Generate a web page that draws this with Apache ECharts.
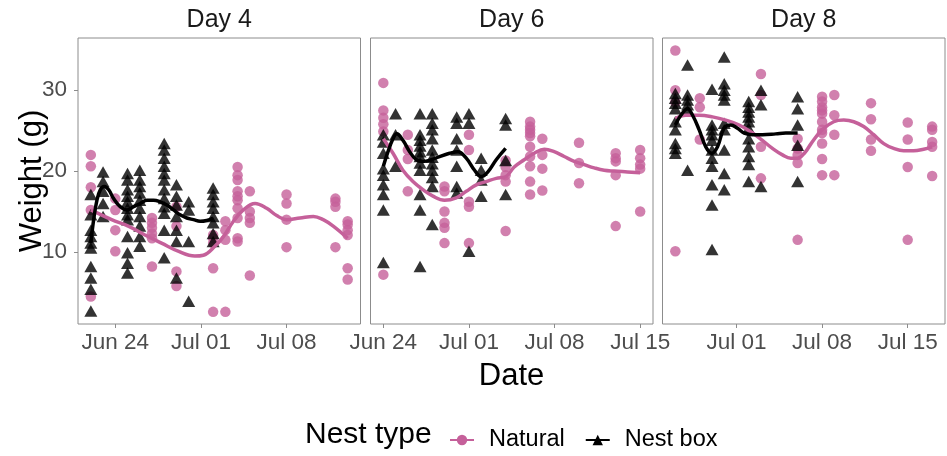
<!DOCTYPE html>
<html>
<head>
<meta charset="utf-8">
<script src="https://cdn.jsdelivr.net/npm/echarts@6/dist/echarts.min.js"></script>
<style>
html,body{margin:0;padding:0;background:#fff;}
#chart{width:947px;height:456px;}
</style>
</head>
<body>
<div id="chart"></div>
<script>
// x values are days since 1 June (Jun 24 = 23, Jul 01 = 30 ...)
const tickDays = [23, 30, 37, 44];
const tickLabels = ['Jun 24', 'Jul 01', 'Jul 08', 'Jul 15'];
const yTicks = [10, 20, 30];
const panels = ['Day 4', 'Day 6', 'Day 8'];
const groups = ['Natural', 'Nest box'];

// weights (g) grouped by date: [day, [weights...]]
const day4Natural = [
  [21, [22.0, 20.6, 18.0, 15.2, 4.5]],
  [23, [16.6, 15.2, 12.7, 10.1]],
  [26, [14.2, 13.6, 13.0, 12.3, 11.7, 8.2]],
  [28, [15.6, 13.2, 7.6, 5.8]],
  [31, [12.1, 11.7, 11.1, 8.0, 2.6]],
  [32, [13.8, 12.7, 11.5, 2.6]],
  [33, [20.5, 19.5, 18.9, 17.5, 16.9, 16.4, 15.4, 14.2, 11.7, 11.3]],
  [34, [17.5, 15.0, 14.2, 13.6, 7.1]],
  [37, [17.1, 16.0, 14.0, 10.6]],
  [41, [16.6, 16.2, 15.6, 10.6]],
  [42, [13.8, 13.4, 12.7, 12.1, 8.0, 6.6]]
];
const day4NestBox = [
  [21, [17.1, 14.6, 12.7, 11.9, 11.1, 10.5, 8.2, 6.8, 5.4, 2.7]],
  [22, [19.9, 18.7, 17.5, 16.0, 14.4]],
  [24, [19.7, 18.9, 17.7, 16.9, 16.2, 15.4, 14.6, 14.0, 11.9, 9.9, 8.6, 7.4]],
  [25, [20.1, 18.9, 18.1, 17.3, 16.4, 15.4, 14.4, 13.2, 11.9, 10.7]],
  [27, [23.4, 22.6, 21.6, 20.6, 19.7, 18.9, 17.7, 16.6, 15.6, 14.8, 12.7, 9.3]],
  [28, [18.3, 16.9, 15.8, 14.4, 12.7, 11.3, 6.8]],
  [29, [16.2, 15.2, 11.3, 3.9]],
  [31, [17.9, 17.1, 16.2, 15.4, 14.4, 13.6, 12.3, 11.3]]
];
const day6Natural = [
  [23, [30.9, 27.5, 26.6, 25.8, 24.9, 7.2]],
  [25, [24.5, 22.6, 21.5, 17.5]],
  [28, [18.1, 17.5, 15.0, 13.6, 13.0, 11.1]],
  [30, [24.5, 22.6, 16.2, 15.6, 11.1]],
  [33, [21.3, 20.5, 19.5, 18.7, 12.6]],
  [35, [26.1, 25.5, 25.1, 24.7, 24.3, 23.0, 21.8, 20.6, 18.7, 17.1]],
  [36, [24.0, 22.0, 20.3, 17.6]],
  [39, [23.5, 21.0, 18.5]],
  [42, [22.2, 21.6, 21.2, 19.5, 13.2]],
  [44, [22.6, 21.6, 20.8, 20.3, 15.0]]
];
const day6NestBox = [
  [23, [24.5, 23.6, 22.2, 20.3, 19.5, 18.3, 17.1, 15.2, 8.7]],
  [24, [27.1, 24.5, 20.6]],
  [26, [27.1, 24.5, 23.8, 23.1, 22.4, 21.8, 21.0, 20.1, 17.1, 15.2, 8.2]],
  [27, [27.1, 25.9, 25.1, 24.0, 22.6, 21.7, 20.9, 20.1, 19.2, 18.1, 13.4]],
  [29, [26.7, 25.9, 24.0, 22.6, 20.6, 18.1, 17.3]],
  [30, [27.1, 25.9, 10.1]],
  [31, [21.6, 20.1, 18.9, 16.9]],
  [33, [26.5, 25.7, 21.3, 17.1]]
];
const day8Natural = [
  [25, [34.9, 30.0, 28.5, 10.1]],
  [27, [29.0, 27.9, 23.9]],
  [32, [32.0, 29.4, 23.0, 19.1]],
  [35, [24.0, 22.8, 22.0, 21.0, 11.5]],
  [37, [29.2, 28.6, 27.9, 27.5, 27.1, 26.1, 25.1, 24.7, 23.4, 21.5, 19.5]],
  [38, [29.4, 26.9, 24.5, 19.5]],
  [41, [28.4, 26.4, 23.9, 22.5]],
  [44, [26.0, 23.9, 20.5, 11.5]],
  [46, [25.5, 25.1, 23.6, 23.0, 19.4]]
];
const day8NestBox = [
  [25, [29.6, 29.0, 28.4, 27.7, 26.1, 25.1, 23.4, 22.8, 22.2]],
  [26, [33.1, 29.4, 28.8, 28.2, 27.5, 20.1]],
  [28, [30.1, 25.7, 25.1, 24.5, 23.8, 22.6, 21.6, 20.6, 18.3, 15.8, 10.3]],
  [29, [34.1, 30.8, 30.0, 29.4, 28.8, 25.9, 25.1, 22.6, 19.7, 17.7]],
  [31, [28.6, 27.9, 27.3, 26.7, 26.1, 25.3, 24.0, 23.0, 21.8, 20.8, 18.7]],
  [32, [30.0, 28.2, 18.1]],
  [35, [29.2, 27.7, 25.7, 23.2, 18.7]]
];

// smoothed (loess) curves: [day, weight]
const day4NaturalFit = [[21.0,15.2],[22.7,14.0],[24.06,13.2],[25.42,12.1],[26.78,11.1],[28.14,10.1],[29.5,9.5],[30.2,9.6],[31.14,10.7],[31.84,11.9],[32.66,13.8],[33.47,15.2],[34.43,16.0],[35.38,15.4],[36.2,14.5],[37.0,14.0],[38.1,14.2],[39.2,14.4],[40.0,14.0],[40.82,13.2],[42.0,11.7]];
const day4NestBoxFit = [[21.0,11.1],[21.23,14.0],[21.5,16.4],[21.78,17.7],[22.1,18.1],[22.46,17.7],[22.86,16.6],[23.4,15.6],[23.95,15.2],[24.5,15.6],[25.04,16.0],[25.59,16.4],[26.13,16.4],[26.67,16.2],[27.22,15.8],[27.76,15.2],[28.3,14.6],[28.85,14.2],[29.39,14.0],[29.94,13.8],[30.48,13.9],[31.0,14.2]];
const day6NaturalFit = [[23.0,24.0],[23.79,22.2],[24.6,20.1],[25.42,18.7],[26.24,17.7],[27.06,16.9],[28.0,16.4],[28.96,16.7],[29.78,17.5],[30.6,18.3],[31.4,18.7],[32.23,19.1],[33.0,19.3],[33.7,20.5],[34.52,21.4],[35.34,22.2],[36.16,22.7],[36.97,22.4],[37.79,21.8],[38.61,21.2],[39.42,20.8],[40.24,20.4],[41.06,20.1],[41.87,20.0],[42.96,19.9],[44.0,19.8]];
const day6NestBoxFit = [[23.0,20.6],[23.38,22.4],[23.79,24.0],[24.1,24.6],[24.6,23.8],[25.15,22.4],[25.7,21.4],[26.24,21.2],[26.92,21.4],[27.6,21.8],[28.42,22.2],[29.1,22.4],[29.78,21.6],[30.46,20.1],[31.0,19.3],[31.55,19.9],[32.23,21.4],[33.0,22.8]];
const day8NaturalFit = [[25.0,26.5],[25.86,26.9],[26.95,26.9],[28.04,26.7],[29.13,26.3],[30.22,25.7],[31.31,24.7],[32.12,23.8],[32.94,22.8],[33.76,22.0],[34.44,21.6],[35.0,21.6],[35.6,22.3],[36.1,23.4],[37.0,25.1],[37.95,26.1],[38.77,26.3],[39.59,26.1],[40.4,25.5],[41.22,24.5],[42.04,23.4],[42.85,22.8],[43.67,22.5],[44.49,22.5],[45.3,22.7],[46.0,23.0]];
const day8NestBoxFit = [[25.0,25.7],[25.45,26.9],[26.0,27.7],[26.41,26.9],[26.95,25.1],[27.49,23.0],[27.98,22.2],[28.45,23.0],[28.99,25.3],[29.54,25.7],[30.08,25.3],[30.63,24.7],[31.31,24.5],[32.12,24.5],[33.21,24.6],[34.03,24.7],[35.0,24.7]];

const xRanges = [[19.95, 43.05], [21.95, 45.05], [23.95, 47.05]];
const yRange = [1.1, 36.45];

const FONT = "'Liberation Sans', Arial, Helvetica, sans-serif";
const PINK = '#C5609A';
const BLACK = '#000000';

const naturalPts = [day4Natural, day6Natural, day8Natural];
const nestPts = [day4NestBox, day6NestBox, day8NestBox];
const naturalFits = [day4NaturalFit, day6NaturalFit, day8NaturalFit];
const nestFits = [day4NestBoxFit, day6NestBoxFit, day8NestBoxFit];

function flatten(grouped) {
  const out = [];
  grouped.forEach(([d, ws]) => ws.forEach(w => out.push([d, w])));
  return out;
}
function dayLabel(v) {
  const i = tickDays.indexOf(Math.round(v));
  return i >= 0 ? tickLabels[i] : '';
}

const gridLefts = [78, 370.5, 662.5];
const gridW = 282.5, gridTop = 38, gridH = 286;

const grids = [], xAxes = [], yAxes = [], series = [], graphics = [];
for (let i = 0; i < 3; i++) {
  grids.push({left: gridLefts[i], top: gridTop, width: gridW, height: gridH,
    show: true, borderColor: '#8c8c8c', borderWidth: 1, containLabel: false});
  const ticks = tickDays.filter(t => t >= xRanges[i][0] && t <= xRanges[i][1]);
  xAxes.push({type: 'value', gridIndex: i, min: xRanges[i][0], max: xRanges[i][1],
    axisLine: {show: false}, splitLine: {show: false},
    axisTick: {show: true, length: 4, lineStyle: {color: '#8c8c8c'}, customValues: ticks},
    axisLabel: {customValues: ticks, formatter: dayLabel, fontSize: 22.5, color: '#4D4D4D',
      fontFamily: FONT, margin: 7, showMinLabel: true, showMaxLabel: true}});
  yAxes.push({type: 'value', gridIndex: i, min: yRange[0], max: yRange[1],
    axisLine: {show: false}, splitLine: {show: false},
    axisTick: {show: i === 0, length: 4, lineStyle: {color: '#8c8c8c'}, customValues: yTicks},
    axisLabel: {show: i === 0, customValues: yTicks, fontSize: 22.5, color: '#4D4D4D',
      fontFamily: FONT, margin: 11}});
  series.push({type: 'scatter', name: groups[0] + ' pts', xAxisIndex: i, yAxisIndex: i,
    data: flatten(naturalPts[i]), symbol: 'circle', symbolSize: 10.5,
    itemStyle: {color: PINK, opacity: 0.8}, silent: true, z: 2});
  series.push({type: 'scatter', name: groups[1] + ' pts', xAxisIndex: i, yAxisIndex: i,
    data: flatten(nestPts[i]), symbol: 'triangle', symbolSize: [13, 11.5],
    itemStyle: {color: BLACK, opacity: 0.8}, silent: true, z: 3});
  series.push({type: 'line', name: groups[0], xAxisIndex: i, yAxisIndex: i,
    data: naturalFits[i], smooth: 0.4, symbol: 'circle', showSymbol: false,
    lineStyle: {color: PINK, width: 3.5}, itemStyle: {color: PINK}, silent: true, z: 4});
  series.push({type: 'line', name: groups[1], xAxisIndex: i, yAxisIndex: i,
    data: nestFits[i], smooth: 0.4, symbol: 'triangle', showSymbol: false,
    lineStyle: {color: BLACK, width: 3.5}, itemStyle: {color: BLACK}, silent: true, z: 5});
  graphics.push({type: 'text', x: gridLefts[i] + gridW / 2, y: 20,
    style: {text: panels[i], fontSize: 25, fontFamily: FONT, fill: '#1a1a1a',
      align: 'center', verticalAlign: 'middle'}});
}
graphics.push({type: 'text', x: (gridLefts[0] + gridLefts[2] + gridW) / 2, y: 376,
  style: {text: 'Date', fontSize: 31, fontFamily: FONT, fill: '#000',
    align: 'center', verticalAlign: 'middle'}});
graphics.push({type: 'text', x: 32, y: gridTop + gridH / 2, rotation: Math.PI / 2,
  style: {text: 'Weight (g)', fontSize: 31, fontFamily: FONT, fill: '#000',
    align: 'center', verticalAlign: 'middle'}});
graphics.push({type: 'text', x: 305, y: 435,
  style: {text: 'Nest type', fontSize: 30, fontFamily: FONT, fill: '#000',
    align: 'left', verticalAlign: 'middle'}});

const chart = echarts.init(document.getElementById('chart'), null, {renderer: 'canvas'});
chart.setOption({
  animation: false,
  backgroundColor: '#ffffff',
  grid: grids,
  xAxis: xAxes,
  yAxis: yAxes,
  legend: {data: groups, left: 449, top: 428, padding: 0, itemWidth: 24, itemHeight: 13,
    itemGap: 20, selectedMode: false,
    textStyle: {fontSize: 23.5, fontFamily: FONT, color: '#000', padding: [0, 0, 0, 10]}},
  graphic: graphics,
  series: series
});
</script>
</body>
</html>
